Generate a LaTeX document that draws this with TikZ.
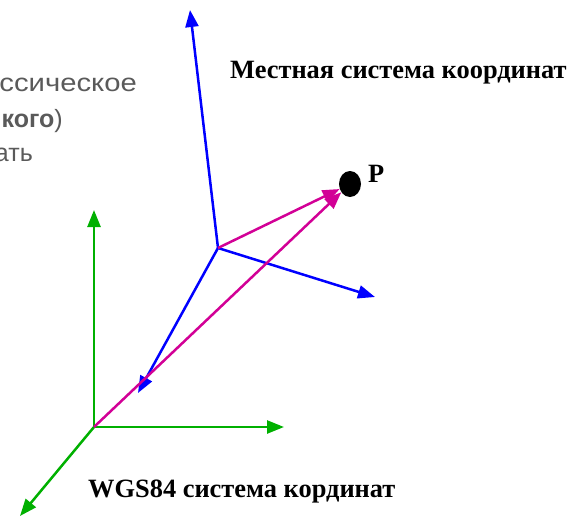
\documentclass[tikz,border=0pt]{standalone}
\usepackage{fontspec}
\setmainfont{Liberation Serif}
\newfontfamily\grayfont{Liberation Sans}
\usetikzlibrary{arrows.meta,shapes.geometric}
\definecolor{axblue}{RGB}{0,0,255}
\definecolor{axgreen}{RGB}{0,176,0}
\definecolor{vecmag}{RGB}{210,0,150}
\definecolor{txtgray}{RGB}{90,90,90}
\tikzset{
  axis/.style={line width=2.5pt,-{Triangle[length=17pt,width=13pt]}},
  blueaxis/.style={axis,draw=axblue,fill=axblue},
  greenaxis/.style={axis,draw=axgreen,fill=axgreen},
  vec/.style={line width=2.5pt,draw=vecmag,-{Triangle[length=17pt,width=13pt]}},
  lbl/.style={font=\bfseries\fontsize{26.4}{30}\selectfont,inner sep=0pt,anchor=base west},
  graytxt/.style={font=\grayfont\fontsize{25}{30}\selectfont,text=txtgray,inner sep=0pt,anchor=base east},
}
\begin{document}
\begin{tikzpicture}[x=1pt,y=-1pt]
\useasboundingbox (0,0) rectangle (571,517);
\clip (0,0) rectangle (571,517);
% cropped grey text at left
\node[graytxt] (g1) at (137,91) {\scalebox{1.17}[1]{ссическое}};
\node[graytxt] (g2) at (63,127) {\bfseries кого\mdseries)};
\node[graytxt] (g3) at (33,161) {ать};
% origins and tips
\coordinate (O2) at (218,248);
\coordinate (O1) at (94,427);
\coordinate (bu) at (190,10);
\coordinate (br) at (375,297);
\coordinate (bd) at (138,393);
\coordinate (gu) at (94,210);
\coordinate (gr) at (284,427);
\coordinate (gd) at (20,516);
% point P
\node[ellipse,fill=black,minimum width=22pt,minimum height=26pt,inner sep=0pt] (P) at (350,184) {};
\node[lbl] (Plbl) at (368,182) {P};
% labels
\node[lbl] (loc) at (230,78) {Местная система координат};
\node[lbl] (wgs) at (88,497) {WGS84 система кординат};
% local (blue) axes
\draw[blueaxis] (O2) -- (bu);
\draw[blueaxis] (O2) -- (br);
\draw[blueaxis] (O2) -- (bd);
% WGS84 (green) axes
\draw[greenaxis] (O1) -- (gu);
\draw[greenaxis] (O1) -- (gr);
\draw[greenaxis] (O1) -- (gd);
% vectors to P
\draw[vec,fill=vecmag] (O2) -- (P);
\draw[vec,fill=vecmag] (O1) -- (P);
\end{tikzpicture}
\end{document}
